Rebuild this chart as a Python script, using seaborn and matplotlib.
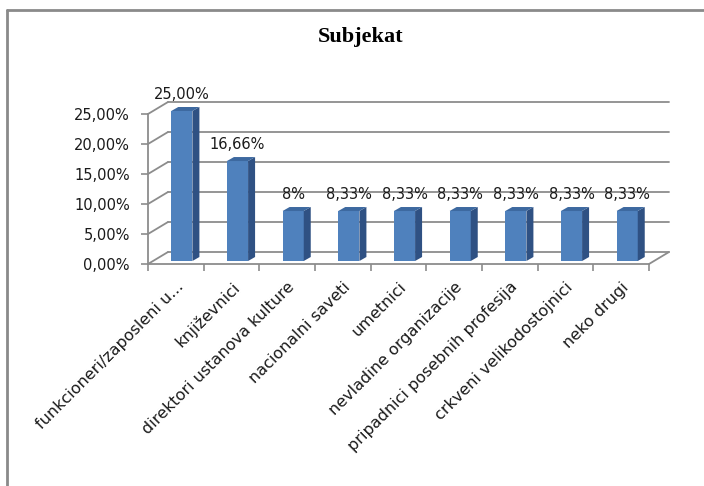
import matplotlib
matplotlib.use("Agg")
import numpy as np
import pandas as pd
import seaborn as sns
import matplotlib.pyplot as plt
from matplotlib import transforms
from matplotlib.patches import Polygon
from matplotlib.lines import Line2D

categories = ["funkcioneri/zaposleni u...", "književnici", "direktori ustanova kulture",
              "nacionalni saveti", "umetnici", "nevladine organizacije",
              "pripadnici posebnih profesija", "crkveni velikodostojnici", "neko drugi"]
values = [25.00, 16.66, 8.33, 8.33, 8.33, 8.33, 8.33, 8.33, 8.33]
value_labels = ["25,00%", "16,66%", "8%", "8,33%", "8,33%", "8,33%", "8,33%", "8,33%", "8,33%"]
y_ticks = [0, 5, 10, 15, 20, 25]
y_tick_labels = ["0,00%", "5,00%", "10,00%", "15,00%", "20,00%", "25,00%"]
title = "Subjekat"

sns.set_theme(style="white")
plt.rcParams["font.family"] = ["DejaVu Sans"]

W, H = 704, 486
fig = plt.figure(figsize=(W / 100, H / 100), dpi=100)
fig.patch.set_facecolor("white")
ax = fig.add_axes([148 / W, 1 - 264 / H, 501 / W, 150 / H])
ax.set_facecolor("none")

df = pd.DataFrame({"cat": categories, "val": values})
sns.barplot(data=df, x="cat", y="val", color="#4F81BD", width=0.38, ax=ax,
            saturation=1, zorder=3)
ax.set_xlim(-0.5, len(categories) - 0.5)
ax.set_ylim(0, 25)

grid_c = "#8c8c8c"
DX, DY = 20, 12      # back wall depth (pixels)
BX, BY = 6, 3        # bar front offset
SX, SY = 7, 4        # bar depth
ident = transforms.IdentityTransform()
fs = 10.5

# back wall gridlines and diagonals
back = transforms.offset_copy(ax.transData, fig=fig, x=DX, y=DY, units="dots")
x0l, x1l = ax.get_xlim()
for v in y_ticks:
    ax.plot([x0l, x1l], [v, v], color=grid_c, lw=1.3, transform=back, clip_on=False, zorder=1)
    p = ax.transData.transform((x0l, v))
    ax.add_line(Line2D([p[0], p[0] + DX], [p[1], p[1] + DY], color=grid_c, lw=1.3,
                       transform=ident, clip_on=False, zorder=1))
p = ax.transData.transform((x1l, 0))
ax.add_line(Line2D([p[0], p[0] + DX], [p[1], p[1] + DY], color=grid_c, lw=1.3,
                   transform=ident, clip_on=False, zorder=1))

# 3D-ish bars
bar_off = transforms.offset_copy(ax.transData, fig=fig, x=BX, y=BY, units="dots")
for patch, lbl in zip(ax.patches, value_labels):
    patch.set_transform(bar_off)
    patch.set_clip_on(False)
    patch.set_edgecolor("none")
    x0, w, h = patch.get_x(), patch.get_width(), patch.get_height()
    bl = ax.transData.transform((x0, 0)) + (BX, BY)
    tr = ax.transData.transform((x0 + w, h)) + (BX, BY)
    side = [(tr[0], bl[1]), (tr[0], tr[1]), (tr[0] + SX, tr[1] + SY), (tr[0] + SX, bl[1] + SY)]
    top = [(bl[0], tr[1]), (tr[0], tr[1]), (tr[0] + SX, tr[1] + SY), (bl[0] + SX, tr[1] + SY)]
    ax.add_patch(Polygon(side, closed=True, facecolor="#2F5183", edgecolor="none",
                         transform=ident, clip_on=False, zorder=3))
    ax.add_patch(Polygon(top, closed=True, facecolor="#3D69A0", edgecolor="none",
                         transform=ident, clip_on=False, zorder=3))
    ax.annotate(lbl, (x0 + w / 2, h), xytext=(BX, BY + 9), textcoords="offset pixels",
                ha="center", va="bottom", fontsize=fs, color="#1a1a1a",
                annotation_clip=False, zorder=4)

for s in ["top", "right"]:
    ax.spines[s].set_visible(False)
for s in ["left", "bottom"]:
    ax.spines[s].set_color(grid_c)
    ax.spines[s].set_linewidth(1.3)

ax.set_yticks(y_ticks, y_tick_labels)
ax.tick_params(axis="y", left=True, length=5, width=1.2, color=grid_c, pad=8,
               labelsize=fs, labelcolor="#1a1a1a", direction="out")
ax.set_xticks(range(len(categories)), categories)
ax.set_xticks(np.arange(-0.5, len(categories)), minor=True)
ax.tick_params(axis="x", which="major", length=0, pad=11, labelsize=11.5, labelcolor="#1a1a1a")
ax.tick_params(axis="x", which="minor", bottom=True, length=5, width=1.2, color=grid_c,
               direction="out")
plt.setp(ax.get_xticklabels(), rotation=45, ha="right", rotation_mode="anchor")
ax.set_xlabel("")
ax.set_ylabel("")

fig.text(361 / W, 1 - 37 / H, title, family="Liberation Serif", weight="bold",
         fontsize=16, ha="center", va="center", color="black")

border_c = "#8a8a8a"
fig.add_artist(Line2D([7 / W, 1], [1 - 10 / H, 1 - 10 / H], transform=fig.transFigure,
                      color=border_c, lw=2))
fig.add_artist(Line2D([7 / W, 7 / W], [0, 1 - 10 / H], transform=fig.transFigure,
                      color=border_c, lw=2))

fig.savefig("out.png", dpi=100, facecolor="white")
